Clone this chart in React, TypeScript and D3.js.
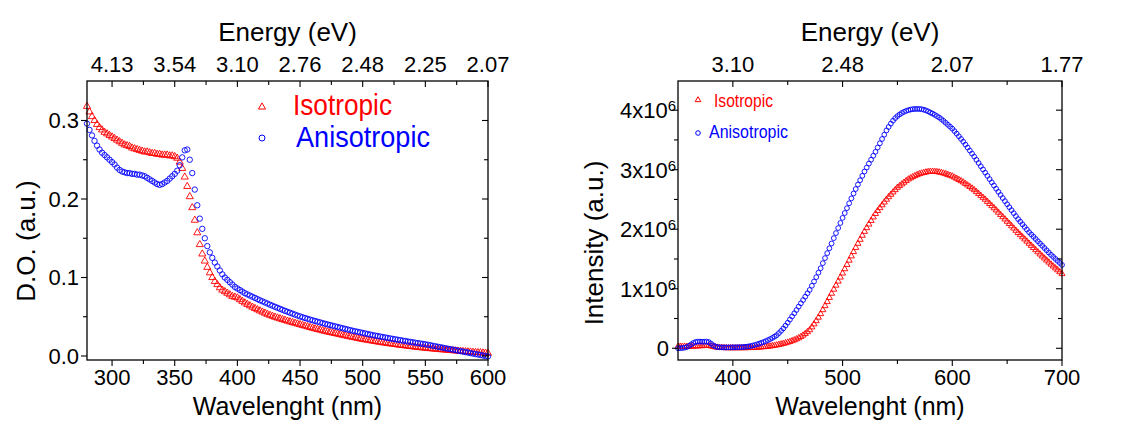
import React from "react";
import * as d3 from "d3";

// ---------- DATA ----------
// Absorption (left panel): wavelength grid 280..600 nm, step 2 nm
const absWavelengths = d3.range(280, 601, 2);
const absIsotropic = [
  0.318, 0.311, 0.305, 0.300, 0.295, 0.291, 0.288, 0.285, 0.283, 0.281,
  0.279, 0.277, 0.275, 0.273, 0.271, 0.269, 0.268, 0.267, 0.265, 0.264,
  0.263, 0.262, 0.261, 0.260, 0.260, 0.259, 0.258, 0.258, 0.257, 0.257,
  0.256, 0.256, 0.256, 0.255, 0.255, 0.254, 0.252, 0.247, 0.239, 0.228,
  0.216, 0.203, 0.189, 0.173, 0.157, 0.142, 0.130, 0.121, 0.113, 0.106,
  0.100, 0.095, 0.091, 0.087, 0.084, 0.082, 0.080, 0.078, 0.076, 0.075,
  0.0740, 0.0718, 0.0697, 0.0677, 0.0658, 0.0640, 0.0623, 0.0606, 0.0590, 0.0575,
  0.0560, 0.0546, 0.0532, 0.0519, 0.0507, 0.0495, 0.0485, 0.0475, 0.0465, 0.0455,
  0.0445, 0.0436, 0.0427, 0.0418, 0.0409, 0.0400, 0.0391, 0.0382, 0.0373, 0.0364,
  0.0355, 0.0347, 0.0339, 0.0331, 0.0323, 0.0315, 0.0308, 0.0301, 0.0294, 0.0287,
  0.0280, 0.0273, 0.0266, 0.0259, 0.0252, 0.0245, 0.0239, 0.0232, 0.0226, 0.0219,
  0.0213, 0.0207, 0.0202, 0.0196, 0.0191, 0.0185, 0.0180, 0.0175, 0.0170, 0.0165,
  0.0160, 0.0156, 0.0151, 0.0147, 0.0142, 0.0138, 0.0134, 0.0130, 0.0126, 0.0122,
  0.0118, 0.0114, 0.0111, 0.0107, 0.0104, 0.0100, 0.0097, 0.0094, 0.0091, 0.0088,
  0.0085, 0.0082, 0.0079, 0.0077, 0.0074, 0.0071, 0.0068, 0.0066, 0.0063, 0.0061,
  0.0058, 0.0056, 0.0053, 0.0051, 0.0048, 0.0046, 0.0044, 0.0042, 0.0039, 0.0037,
  0.0035,
];
const absAnisotropic = [
  0.296, 0.288, 0.281, 0.274, 0.268, 0.263, 0.259, 0.256, 0.253, 0.250,
  0.247, 0.244, 0.240, 0.237, 0.235, 0.234, 0.233, 0.233, 0.232, 0.232,
  0.231, 0.231, 0.230, 0.229, 0.227, 0.225, 0.223, 0.221, 0.219, 0.218,
  0.219, 0.221, 0.223, 0.226, 0.229, 0.232, 0.236, 0.243, 0.253, 0.262,
  0.263, 0.250, 0.233, 0.212, 0.192, 0.175, 0.162, 0.150, 0.140, 0.132,
  0.125, 0.119, 0.114, 0.109, 0.104, 0.100, 0.097, 0.094, 0.091, 0.088,
  0.086, 0.084, 0.082, 0.080, 0.0785, 0.0770, 0.0755, 0.0740, 0.0725, 0.0710,
  0.0696, 0.0682, 0.0668, 0.0654, 0.0640, 0.0627, 0.0614, 0.0601, 0.0588, 0.0575,
  0.0563, 0.0551, 0.0539, 0.0527, 0.0515, 0.0504, 0.0494, 0.0484, 0.0474, 0.0464,
  0.0455, 0.0446, 0.0437, 0.0428, 0.0419, 0.0410, 0.0402, 0.0394, 0.0386, 0.0378,
  0.0370, 0.0362, 0.0354, 0.0346, 0.0338, 0.0330, 0.0322, 0.0315, 0.0308, 0.0301,
  0.0294, 0.0287, 0.0280, 0.0273, 0.0266, 0.0260, 0.0254, 0.0248, 0.0242, 0.0236,
  0.0230, 0.0224, 0.0218, 0.0213, 0.0207, 0.0202, 0.0196, 0.0191, 0.0185, 0.0180,
  0.0175, 0.0169, 0.0164, 0.0159, 0.0154, 0.0149, 0.0143, 0.0137, 0.0130, 0.0124,
  0.0118, 0.0112, 0.0106, 0.0099, 0.0093, 0.0087, 0.0081, 0.0075, 0.0068, 0.0062,
  0.0056, 0.0050, 0.0044, 0.0037, 0.0031, 0.0025, 0.0019, 0.0013, 0.0006, 0.0000,
  -0.0006,
];

// Photoluminescence (right panel): wavelength grid 350..700 nm, step 2 nm, intensity in 10^6
const plWavelengths = d3.range(350, 701, 2);
const plIsotropic = [
  0.030, 0.030, 0.030, 0.030, 0.030, 0.030, 0.031, 0.032, 0.034, 0.036,
  0.038, 0.040, 0.043, 0.045, 0.044, 0.038, 0.028, 0.020, 0.015, 0.011,
  0.009, 0.007, 0.006, 0.005, 0.005, 0.005, 0.005, 0.005, 0.005, 0.005,
  0.006, 0.006, 0.007, 0.008, 0.009, 0.011, 0.013, 0.016, 0.019, 0.022,
  0.026, 0.030, 0.035, 0.040, 0.046, 0.053, 0.061, 0.069, 0.078, 0.088,
  0.099, 0.111, 0.124, 0.138, 0.154, 0.172, 0.194, 0.218, 0.245, 0.275,
  0.308, 0.355, 0.406, 0.460, 0.518, 0.578, 0.644, 0.712, 0.780, 0.850,
  0.920, 0.988, 1.056, 1.124, 1.192, 1.260, 1.332, 1.404, 1.476, 1.548,
  1.620, 1.690, 1.759, 1.826, 1.894, 1.960, 2.022, 2.083, 2.143, 2.202,
  2.260, 2.310, 2.358, 2.406, 2.453, 2.500, 2.542, 2.583, 2.622, 2.661,
  2.700, 2.729, 2.757, 2.786, 2.813, 2.840, 2.860, 2.879, 2.897, 2.914,
  2.930, 2.940, 2.950, 2.958, 2.965, 2.970, 2.970, 2.968, 2.964, 2.958,
  2.950, 2.940, 2.929, 2.916, 2.903, 2.890, 2.871, 2.851, 2.831, 2.811,
  2.790, 2.765, 2.739, 2.713, 2.687, 2.660, 2.628, 2.596, 2.564, 2.532,
  2.500, 2.464, 2.428, 2.392, 2.356, 2.320, 2.282, 2.244, 2.206, 2.168,
  2.130, 2.092, 2.054, 2.016, 1.978, 1.940, 1.904, 1.868, 1.832, 1.796,
  1.760, 1.724, 1.688, 1.652, 1.616, 1.580, 1.546, 1.512, 1.478, 1.444,
  1.410, 1.378, 1.346, 1.314, 1.282, 1.250,
];
const plAnisotropic = [
  0.000, 0.002, 0.005, 0.010, 0.020, 0.040, 0.065, 0.090, 0.105, 0.112,
  0.112, 0.110, 0.110, 0.112, 0.104, 0.080, 0.050, 0.030, 0.020, 0.016,
  0.015, 0.014, 0.014, 0.014, 0.015, 0.015, 0.016, 0.017, 0.018, 0.020,
  0.022, 0.026, 0.031, 0.037, 0.045, 0.055, 0.066, 0.078, 0.091, 0.105,
  0.120, 0.137, 0.155, 0.174, 0.196, 0.220, 0.255, 0.293, 0.334, 0.380,
  0.430, 0.482, 0.535, 0.588, 0.643, 0.700, 0.755, 0.810, 0.867, 0.924,
  0.980, 1.050, 1.122, 1.195, 1.270, 1.345, 1.430, 1.515, 1.598, 1.680,
  1.760, 1.850, 1.935, 2.020, 2.105, 2.190, 2.272, 2.354, 2.436, 2.518,
  2.600, 2.675, 2.750, 2.823, 2.897, 2.970, 3.036, 3.102, 3.168, 3.234,
  3.300, 3.372, 3.444, 3.516, 3.588, 3.660, 3.718, 3.774, 3.824, 3.866,
  3.900, 3.928, 3.952, 3.972, 3.988, 4.000, 4.010, 4.017, 4.020, 4.021,
  4.020, 4.016, 4.008, 3.996, 3.980, 3.960, 3.942, 3.922, 3.900, 3.876,
  3.850, 3.820, 3.788, 3.755, 3.722, 3.690, 3.648, 3.605, 3.561, 3.516,
  3.470, 3.421, 3.371, 3.321, 3.271, 3.220, 3.166, 3.112, 3.058, 3.004,
  2.950, 2.896, 2.842, 2.788, 2.734, 2.680, 2.628, 2.576, 2.524, 2.472,
  2.420, 2.370, 2.320, 2.270, 2.220, 2.170, 2.126, 2.082, 2.038, 1.994,
  1.950, 1.912, 1.874, 1.836, 1.798, 1.760, 1.722, 1.684, 1.646, 1.608,
  1.570, 1.536, 1.502, 1.468, 1.434, 1.400,
];

// Ticks
const absXTicks = [300, 350, 400, 450, 500, 550, 600];
const absXMinor = [325, 375, 425, 475, 525, 575];
const absEnergyLabels = ["4.13", "3.54", "3.10", "2.76", "2.48", "2.25", "2.07"];
const absYTicks = [0, 0.1, 0.2, 0.3];
const absYTickLabels = ["0.0", "0.1", "0.2", "0.3"];
const absYMinor = [0.05, 0.15, 0.25];

const plXTicks = [400, 500, 600, 700];
const plXMinor = [450, 550, 650];
const plEnergyLabels = ["3.10", "2.48", "2.07", "1.77"];
const plYTicks = [0, 1, 2, 3, 4];
const plYTickLabels = ["0", "1", "2", "3", "4"];
const plYMinor = [0.5, 1.5, 2.5, 3.5];

const seriesNames = ["Isotropic", "Anisotropic"];
const RED = "#ff0000";
const BLUE = "#0000ff";
const FONT = "'Liberation Sans', Arial, Helvetica, sans-serif";
const TICK_FS = 22;

type PanelProps = {
  left: number; right: number; top: number; bottom: number;
  xDomain: [number, number]; yDomain: [number, number];
  xTicks: number[]; xMinor: number[]; energyLabels: string[];
  yTicks: number[]; yTickLabels: string[]; yMinor: number[];
  superscript: boolean;
  wl: number[]; iso: number[]; aniso: number[];
  triSize: number; circR: number;
  yTitle: string; yTitleX: number; yTitleY: number;
};

function Panel(p: PanelProps) {
  const x = d3.scaleLinear().domain(p.xDomain).range([p.left, p.right]);
  const y = d3.scaleLinear().domain(p.yDomain).range([p.bottom, p.top]);
  const tri = d3.symbol(d3.symbolTriangle, p.triSize)() as string;
  const cx = (p.left + p.right) / 2;
  const major = 6, minor = 4;
  return (
    <g fontFamily={FONT}>
      {p.wl.map((w, i) => (
        <path key={"t" + i} d={tri} transform={`translate(${x(w)},${y(p.iso[i])})`}
          fill="none" stroke={RED} strokeWidth={0.9} />
      ))}
      {p.wl.map((w, i) => (
        <circle key={"c" + i} cx={x(w)} cy={y(p.aniso[i])} r={p.circR}
          fill="none" stroke={BLUE} strokeWidth={0.9} />
      ))}
      <rect x={p.left} y={p.top} width={p.right - p.left} height={p.bottom - p.top}
        fill="none" stroke="#000" strokeWidth={1.3} />
      {p.xTicks.map((t) => (
        <g key={"xt" + t}>
          <line x1={x(t)} x2={x(t)} y1={p.bottom} y2={p.bottom + major} stroke="#000" strokeWidth={1.1} />
          <line x1={x(t)} x2={x(t)} y1={p.top} y2={p.top + major} stroke="#000" strokeWidth={1.1} />
          <text x={x(t)} y={385} textAnchor="middle" fontSize={TICK_FS}>{t}</text>
        </g>
      ))}
      {p.xTicks.map((t, i) => (
        <text key={"el" + t} x={x(t)} y={72} textAnchor="middle" fontSize={TICK_FS}>{p.energyLabels[i]}</text>
      ))}
      {p.xMinor.map((t) => (
        <g key={"xm" + t}>
          <line x1={x(t)} x2={x(t)} y1={p.bottom} y2={p.bottom + minor} stroke="#000" strokeWidth={1.1} />
          <line x1={x(t)} x2={x(t)} y1={p.top} y2={p.top + minor} stroke="#000" strokeWidth={1.1} />
        </g>
      ))}
      {p.yTicks.map((t, i) => (
        <g key={"yt" + t}>
          <line x1={p.left - major} x2={p.left} y1={y(t)} y2={y(t)} stroke="#000" strokeWidth={1.1} />
          <line x1={p.right - major} x2={p.right} y1={y(t)} y2={y(t)} stroke="#000" strokeWidth={1.1} />
          {p.superscript && t !== 0 ? (
            <text x={p.left - 2} y={y(t) + 8} textAnchor="end" fontSize={TICK_FS}>
              {p.yTickLabels[i]}x10<tspan dy={-7} fontSize={15}>6</tspan>
            </text>
          ) : (
            <text x={p.left - (p.superscript ? 9 : 8)} y={y(t) + 8} textAnchor="end" fontSize={TICK_FS}>
              {p.yTickLabels[i]}
            </text>
          )}
        </g>
      ))}
      {p.yMinor.map((t) => (
        <g key={"ym" + t}>
          <line x1={p.left - minor} x2={p.left} y1={y(t)} y2={y(t)} stroke="#000" strokeWidth={1.1} />
          <line x1={p.right - minor} x2={p.right} y1={y(t)} y2={y(t)} stroke="#000" strokeWidth={1.1} />
        </g>
      ))}
      <text x={cx} y={415} textAnchor="middle" fontSize={25}>Wavelenght (nm)</text>
      <text x={cx} y={41} textAnchor="middle" fontSize={26}>Energy (eV)</text>
      <text transform={`translate(${p.yTitleX},${p.yTitleY}) rotate(-90)`} textAnchor="middle" fontSize={26}>
        {p.yTitle}
      </text>
    </g>
  );
}

export default function App() {
  const triL = d3.symbol(d3.symbolTriangle, 22)() as string;
  const triR = d3.symbol(d3.symbolTriangle, 14)() as string;
  return (
    <svg width={1121} height={421} style={{ position: "absolute", left: 0, top: 0, background: "#fff" }}>
      <rect x={0} y={0} width={1121} height={421} fill="#fff" />
      <Panel left={87} right={488} top={81} bottom={360}
        xDomain={[280, 600]} yDomain={[-0.0051, 0.3503]}
        xTicks={absXTicks} xMinor={absXMinor} energyLabels={absEnergyLabels}
        yTicks={absYTicks} yTickLabels={absYTickLabels} yMinor={absYMinor}
        superscript={false}
        wl={absWavelengths} iso={absIsotropic} aniso={absAnisotropic}
        triSize={22} circR={2.7}
        yTitle="D.O. (a.u.)" yTitleX={35} yTitleY={241} />
      <Panel left={678} right={1062} top={81} bottom={360}
        xDomain={[350, 700]} yDomain={[-0.197, 4.49]}
        xTicks={plXTicks} xMinor={plXMinor} energyLabels={plEnergyLabels}
        yTicks={plYTicks} yTickLabels={plYTickLabels} yMinor={plYMinor}
        superscript={true}
        wl={plWavelengths} iso={plIsotropic} aniso={plAnisotropic}
        triSize={16} circR={2.4}
        yTitle="Intensity (a.u.)" yTitleX={603} yTitleY={243} />
      <g fontFamily={FONT}>
        <path d={triL} transform="translate(262,107)" fill="none" stroke={RED} strokeWidth={1} />
        <text x={293} y={115} fontSize={29} fill={RED} textLength={99} lengthAdjust="spacingAndGlyphs">{seriesNames[0]}</text>
        <circle cx={262} cy={138} r={3} fill="none" stroke={BLUE} strokeWidth={1} />
        <text x={296} y={147} fontSize={29} fill={BLUE} textLength={134} lengthAdjust="spacingAndGlyphs">{seriesNames[1]}</text>

        <path d={triR} transform="translate(698,100)" fill="none" stroke={RED} strokeWidth={1} />
        <text x={714} y={107} fontSize={18} fill={RED} textLength={59} lengthAdjust="spacingAndGlyphs">{seriesNames[0]}</text>
        <circle cx={698} cy={133} r={2.3} fill="none" stroke={BLUE} strokeWidth={1} />
        <text x={709} y={138} fontSize={18} fill={BLUE} textLength={79} lengthAdjust="spacingAndGlyphs">{seriesNames[1]}</text>
      </g>
    </svg>
  );
}
